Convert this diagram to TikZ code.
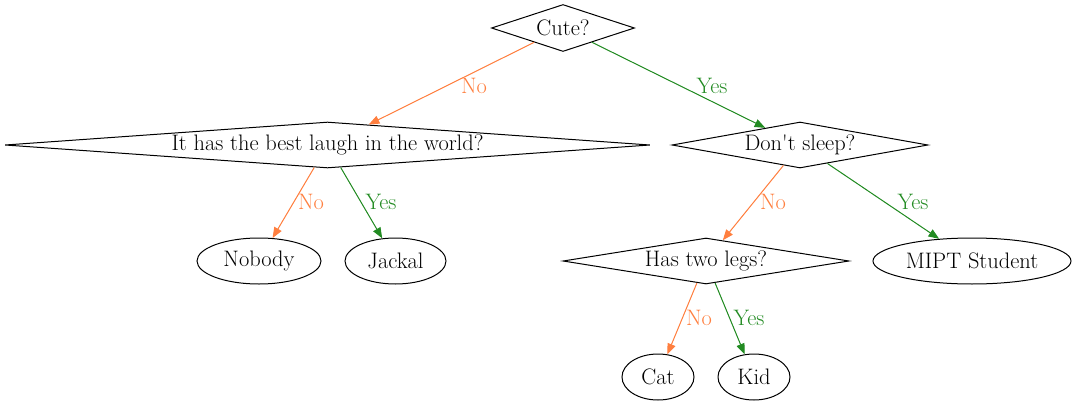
\documentclass[tikz,border=0pt]{standalone}
\usetikzlibrary{shapes.geometric,arrows.meta}
\definecolor{noc}{RGB}{255,127,63}
\definecolor{yesc}{RGB}{34,139,34}
\begin{document}
\begin{tikzpicture}[x=0.75pt,y=-0.75pt,
  every node/.style={font=\fontsize{16.8}{18}\selectfont},
  dia/.style={draw,diamond,inner sep=0pt,line width=0.75pt},
  ell/.style={draw,ellipse,inner sep=0pt,line width=0.75pt,minimum height=46*0.75pt},
  noedge/.style={draw=noc,line width=0.75pt,-{Triangle[length=8pt,width=6.2pt]},fill=noc},
  yesedge/.style={draw=yesc,line width=0.75pt,-{Triangle[length=8pt,width=6.2pt]},fill=yesc},
  nolbl/.style={text=noc,inner sep=0pt},
  yeslbl/.style={text=yesc,inner sep=0pt}]
\useasboundingbox (0,0) rectangle (1079,407);
\node[dia,minimum width=143*0.75pt,minimum height=47*0.75pt,aspect=3] (cute) at (563,28) {Cute?};
\node[dia,minimum width=645*0.75pt,minimum height=46*0.75pt,aspect=14] (laugh) at (327.5,145) {It has the best laugh in the world?};
\node[dia,minimum width=256*0.75pt,minimum height=46*0.75pt,aspect=5.5] (sleep) at (800,145) {Don\textquotesingle t sleep?};
\node[dia,minimum width=286*0.75pt,minimum height=46*0.75pt,aspect=6.2] (legs) at (706,261) {Has two legs?};
\node[ell,minimum width=124*0.75pt] (nobody) at (259,261) {Nobody};
\node[ell,minimum width=101*0.75pt] (jackal) at (395.5,261) {Jackal};
\node[ell,minimum width=198*0.75pt] (mipt) at (972,261) {MIPT Student};
\node[ell,minimum width=72*0.75pt] (cat) at (658,377) {Cat};
\node[ell,minimum width=72*0.75pt] (kid) at (754,377) {Kid};
\draw[noedge] (cute) -- (laugh);
\draw[yesedge] (cute) -- (sleep);
\draw[noedge] (laugh) -- (nobody);
\draw[yesedge] (laugh) -- (jackal);
\draw[noedge] (sleep) -- (legs);
\draw[yesedge] (sleep) -- (mipt);
\draw[noedge] (legs) -- (cat);
\draw[yesedge] (legs) -- (kid);
\node[nolbl] (l1) at (474,86) {No};
\node[yeslbl] (l2) at (712,86) {Yes};
\node[nolbl] (l3) at (311,202) {No};
\node[yeslbl] (l4) at (381,202) {Yes};
\node[nolbl] (l5) at (773,202) {No};
\node[yeslbl] (l6) at (913,202) {Yes};
\node[nolbl] (l7) at (699,318) {No};
\node[yeslbl] (l8) at (749,318) {Yes};
\end{tikzpicture}
\end{document}
